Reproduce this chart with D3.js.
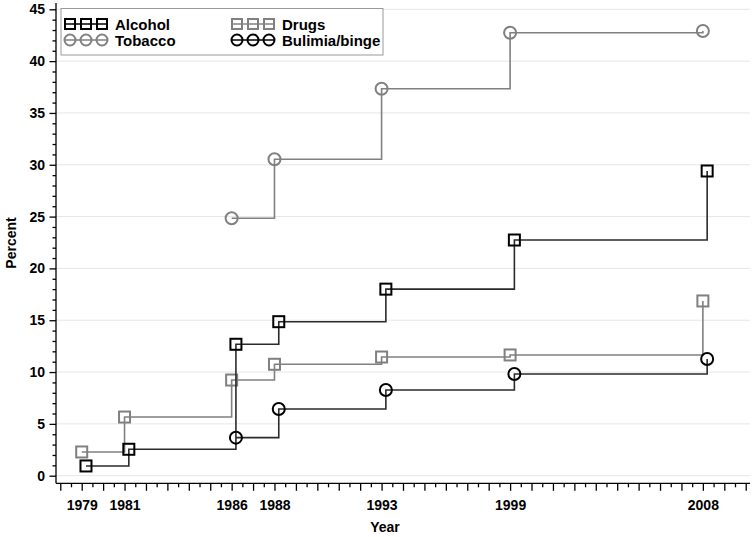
<!DOCTYPE html>
<html>
<head>
<meta charset="utf-8">
<script src="https://cdn.jsdelivr.net/npm/d3@7"></script>
<style>
  body { margin: 0; background: #fff; }
  svg { display: block; font-family: "Liberation Sans", Arial, sans-serif; }
</style>
</head>
<body>
<svg id="chart" width="752" height="537"></svg>
<script>
// ---- data ----
const yearsAll = [1979, 1981, 1986, 1988, 1993, 1999, 2008];
const yearsLate = [1986, 1988, 1993, 1999, 2008];
const alcohol = [0.94, 2.55, 12.68, 14.86, 18.0, 22.74, 29.4];
const drugs = [2.29, 5.66, 9.23, 10.75, 11.45, 11.65, 16.86];
const tobacco = [24.84, 30.53, 37.34, 42.74, 42.9];
const bulimia = [3.67, 6.44, 8.27, 9.81, 11.26];
const yearTickLabels = [1979, 1981, 1986, 1988, 1993, 1999, 2008];
const percentTicks = [0, 5, 10, 15, 20, 25, 30, 35, 40, 45];

// ---- series styling (dodge in years, to separate overlapping points) ----
const series = [
  { name: "Drugs", years: yearsAll, values: drugs, symbol: "square", line: "#808080", mark: "#808080", dodge: 0 },
  { name: "Tobacco", years: yearsLate, values: tobacco, symbol: "circle", line: "#808080", mark: "#808080", dodge: 0 },
  { name: "Alcohol", years: yearsAll, values: alcohol, symbol: "square", line: "#2b2b2b", mark: "#000", dodge: 0.2 },
  { name: "Bulimia/binge", years: yearsLate, values: bulimia, symbol: "circle", line: "#2b2b2b", mark: "#000", dodge: 0.2 }
];

const svg = d3.select("#chart");
const x = d3.scaleLinear().domain([1977.8, 2010.2]).range([56, 750]);
const y = d3.scaleLinear().domain([0, 45]).range([475.7, 9.3]);
const yBottom = 483.3, yTop = 3;
const FONT = "'Liberation Sans', Arial, sans-serif";

// gridlines
svg.append("g").selectAll("line").data(percentTicks).join("line")
  .attr("x1", 56).attr("x2", 750)
  .attr("y1", d => y(d)).attr("y2", d => y(d))
  .attr("stroke", "#e6e6e6").attr("stroke-width", 1);

// x axis
const xMajor = d3.range(1978, 2010.01, 1);
const xMinor = d3.range(1978.5, 2010, 1);
const gx = svg.append("g").attr("transform", `translate(0,${yBottom})`);
gx.append("line").attr("x1", 56).attr("x2", 750).attr("stroke", "#000").attr("stroke-width", 1.3);
gx.append("g").call(d3.axisBottom(x).tickValues(xMinor).tickSize(4).tickFormat(""))
  .call(g => g.select(".domain").remove())
  .call(g => g.selectAll("line").attr("stroke-width", 1.3));
gx.append("g").call(d3.axisBottom(x).tickValues(xMajor).tickSize(7.5)
    .tickFormat(d => yearTickLabels.includes(d) ? d : ""))
  .call(g => g.select(".domain").remove())
  .call(g => g.selectAll("line").attr("stroke-width", 1.3))
  .call(g => g.selectAll("text").attr("dy", "0.71em").attr("y", 17)
      .attr("font-size", 14).attr("font-weight", "bold")
      .attr("font-family", FONT).attr("fill", "#000"));

// y axis
const gy = svg.append("g").attr("transform", "translate(56,0)");
gy.append("line").attr("y1", yTop).attr("y2", yBottom).attr("stroke", "#000").attr("stroke-width", 1.3);
gy.append("g").call(d3.axisLeft(y).tickValues(d3.range(0, 46, 1).filter(d => d % 5 !== 0)).tickSize(3.5).tickFormat(""))
  .call(g => g.select(".domain").remove())
  .call(g => g.selectAll("line").attr("stroke-width", 1.3));
gy.append("g").call(d3.axisLeft(y).tickValues(percentTicks).tickSize(6.5))
  .call(g => g.select(".domain").remove())
  .call(g => g.selectAll("line").attr("stroke-width", 1.3))
  .call(g => g.selectAll("text").attr("x", -11)
      .attr("font-size", 14).attr("font-weight", "bold")
      .attr("font-family", FONT).attr("fill", "#000"));

// axis titles
svg.append("text").attr("x", 385).attr("y", 532).attr("text-anchor", "middle")
  .attr("font-size", 14).attr("font-weight", "bold").text("Year");
svg.append("text").attr("transform", "translate(16,243) rotate(-90)").attr("text-anchor", "middle")
  .attr("font-size", 14).attr("font-weight", "bold").text("Percent");

// step lines and markers
const lineGen = d3.line().curve(d3.curveStepAfter);
function drawMarker(g, sym, cx, cy, color, size) {
  if (sym === "square") {
    g.append("rect").attr("x", cx - size / 2).attr("y", cy - size / 2)
      .attr("width", size).attr("height", size)
      .attr("fill", "none").attr("stroke", color).attr("stroke-width", 2);
  } else {
    g.append("circle").attr("cx", cx).attr("cy", cy).attr("r", size / 2 + 0.5)
      .attr("fill", "none").attr("stroke", color).attr("stroke-width", 2);
  }
}
series.forEach(s => {
  const pts = s.years.map((yr, i) => [x(yr + s.dodge), y(s.values[i])]);
  svg.append("path").attr("d", lineGen(pts)).attr("fill", "none")
    .attr("stroke", s.line).attr("stroke-width", 1.6);
  const g = svg.append("g");
  pts.forEach(p => drawMarker(g, s.symbol, p[0], p[1], s.mark, 11));
});

// legend
const lg = svg.append("g");
lg.append("rect").attr("x", 61).attr("y", 8.5).attr("width", 322).attr("height", 46.5)
  .attr("fill", "#fff").attr("stroke", "#999").attr("stroke-width", 1);
const legendItems = [
  { s: series[2], col: 0, row: 0 },
  { s: series[0], col: 1, row: 0 },
  { s: series[1], col: 0, row: 1 },
  { s: series[3], col: 1, row: 1 }
];
legendItems.forEach(it => {
  const x0 = it.col === 0 ? 65 : 232;
  const cy = it.row === 0 ? 24 : 40;
  lg.append("line").attr("x1", x0).attr("x2", x0 + 42).attr("y1", cy).attr("y2", cy)
    .attr("stroke", it.s.mark).attr("stroke-width", 1.6);
  [5, 21, 37].forEach(dx => drawMarker(lg, it.s.symbol, x0 + dx, cy, it.s.mark, 10));
  lg.append("text").attr("x", x0 + 50).attr("y", cy + 5.5)
    .attr("font-size", 15).attr("font-weight", "bold").attr("fill", "#000").text(it.s.name);
});
</script>
</body>
</html>
